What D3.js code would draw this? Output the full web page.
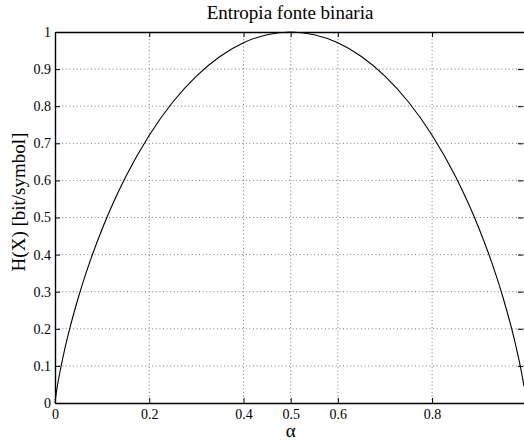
<!DOCTYPE html>
<html>
<head>
<meta charset="utf-8">
<script src="https://cdn.jsdelivr.net/npm/d3@7"></script>
<style>
  body { margin: 0; background: #fff; }
  svg { display: block; }
  text { font-family: "Liberation Serif", "DejaVu Serif", serif; fill: #000; }
  .grid line { stroke: #777; stroke-dasharray: 1,2.6; stroke-width: 1; }
</style>
</head>
<body>
<svg id="chart"></svg>
<script>
// values
const alpha = [0, 0.001, 0.0025, 0.005, 0.01, 0.02, 0.03, 0.05, 0.075, 0.1, 0.15, 0.2, 0.25, 0.3, 0.35, 0.4, 0.45, 0.5,
  0.55, 0.6, 0.65, 0.7, 0.75, 0.8, 0.85, 0.9, 0.925, 0.95, 0.97, 0.98, 0.99, 0.995];
const entropy = [0, 0.0114, 0.0252, 0.0454, 0.0808, 0.1414, 0.1944, 0.2864, 0.3843, 0.469, 0.6098, 0.7219, 0.8113, 0.8813, 0.9341, 0.971, 0.9928, 1,
  0.9928, 0.971, 0.9341, 0.8813, 0.8113, 0.7219, 0.6098, 0.469, 0.3843, 0.2864, 0.1944, 0.1414, 0.0808, 0.0454];
const xTicks = [0, 0.2, 0.4, 0.5, 0.6, 0.8];
const yTicks = [0, 0.1, 0.2, 0.3, 0.4, 0.5, 0.6, 0.7, 0.8, 0.9, 1];

const W = 524, H = 441;
const margin = {top: 32, bottom: 38, left: 55, right: 0};
const width = W - margin.left - margin.right;
const height = H - margin.top - margin.bottom;

const $svg = d3.select('#chart').attr('width', W).attr('height', H);
const $vis = $svg.append('g')
  .attr('transform', 'translate(' + margin.left + ',' + margin.top + ')');

const scaleX = d3.scaleLinear().domain([0, 0.995]).range([0, width]);
const scaleY = d3.scaleLinear().domain([0, 1]).range([height, 0]);

// grid
$vis.append('g').attr('class', 'grid')
  .selectAll('line').data(xTicks.filter(d => d > 0)).enter().append('line')
  .attr('x1', d => scaleX(d)).attr('x2', d => scaleX(d))
  .attr('y1', 0).attr('y2', height);
$vis.append('g').attr('class', 'grid')
  .selectAll('line').data(yTicks.filter(d => d > 0 && d < 1)).enter().append('line')
  .attr('x1', 0).attr('x2', width)
  .attr('y1', d => scaleY(d)).attr('y2', d => scaleY(d));

// axes, ticks pointing inward
const fmt = d => String(d);
const axB = $vis.append('g').attr('transform', 'translate(0,' + height + ')')
  .call(d3.axisBottom(scaleX).tickValues(xTicks).tickSizeInner(-5).tickSizeOuter(0).tickPadding(6).tickFormat(fmt));
const axT = $vis.append('g')
  .call(d3.axisTop(scaleX).tickValues(xTicks).tickSizeInner(-5).tickSizeOuter(0).tickFormat(''));
const axL = $vis.append('g')
  .call(d3.axisLeft(scaleY).tickValues(yTicks).tickSizeInner(-5).tickSizeOuter(0).tickPadding(4).tickFormat(fmt));
const axR = $vis.append('g').attr('transform', 'translate(' + (width - 1) + ',0)')
  .call(d3.axisRight(scaleY).tickValues(yTicks).tickSizeInner(-5).tickSizeOuter(0).tickFormat(''));

[axB, axT, axL, axR].forEach(a => {
  a.selectAll('text').style('font-family', '"Liberation Serif", serif').style('font-size', '14px');
  a.selectAll('line').attr('stroke', '#000');
});
axB.select('.domain').attr('stroke-width', 1.4);
axT.select('.domain').attr('stroke-width', 1.4);
axL.select('.domain').attr('stroke-width', 1.4);
axR.select('.domain').attr('stroke', 'none');

// curve
const line = d3.line()
  .x((d, i) => scaleX(alpha[i]))
  .y(d => scaleY(d))
  .curve(d3.curveMonotoneX);

$vis.append('path')
  .datum(entropy)
  .attr('fill', 'none')
  .attr('stroke', '#000')
  .attr('stroke-width', 1.1)
  .attr('d', line);

// labels
$svg.append('text')
  .attr('x', 290).attr('y', 19)
  .attr('text-anchor', 'middle')
  .style('font-size', '19px')
  .text('Entropia fonte binaria');

$svg.append('text')
  .attr('x', margin.left + scaleX(0.5)).attr('y', 437)
  .attr('text-anchor', 'middle')
  .style('font-size', '19px')
  .text('α');

$svg.append('text')
  .attr('transform', 'translate(25,202) rotate(-90)')
  .attr('text-anchor', 'middle')
  .style('font-size', '19px')
  .text('H(X) [bit/symbol]');
</script>
</body>
</html>
